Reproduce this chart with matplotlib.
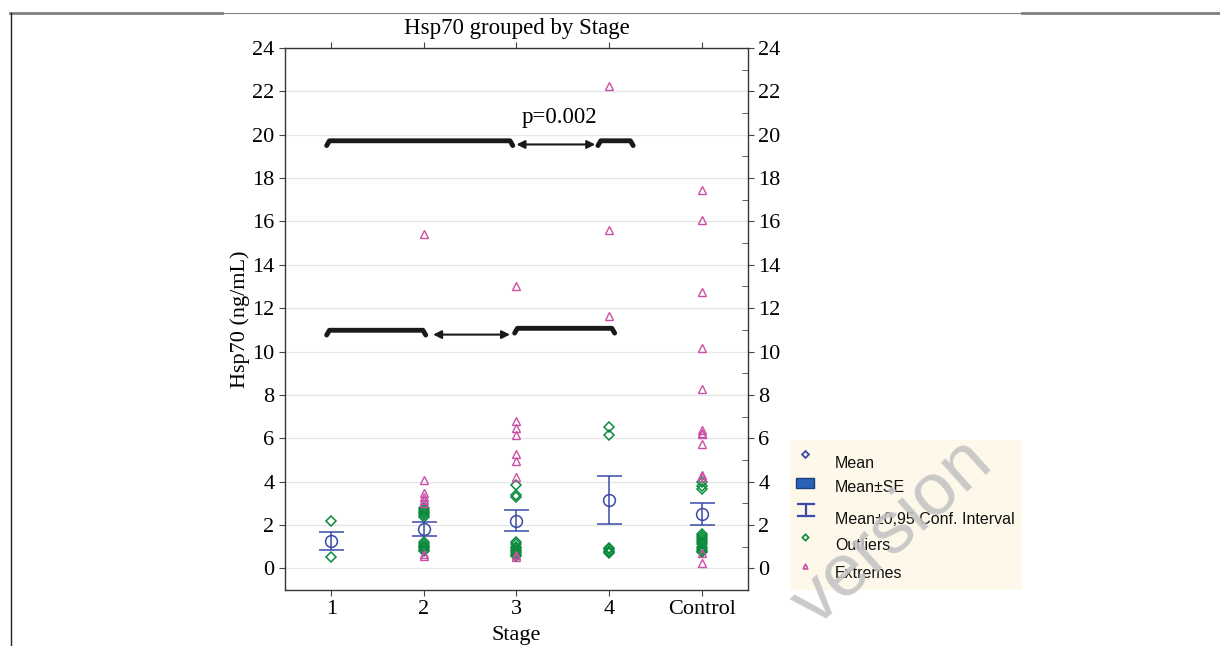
import matplotlib.pyplot as plt
from matplotlib.lines import Line2D
from matplotlib.patches import Rectangle

plt.rcParams['font.family'] = ['Liberation Serif', 'DejaVu Serif']

# categories and summary statistics
stages = ["1", "2", "3", "4", "Control"]
means = [1.26, 1.80, 2.20, 3.17, 2.51]
ci_low = [0.85, 1.48, 1.72, 2.06, 2.00]
ci_high = [1.68, 2.12, 2.68, 4.28, 3.01]

# outliers (green diamonds) per stage
outliers = [
    [2.18, 0.52],
    [2.80, 2.70, 2.62, 2.55, 2.45, 2.38, 1.20, 1.12, 1.05, 0.98, 0.92, 0.85, 0.78],
    [3.83, 3.40, 3.29, 1.21, 1.10, 1.00, 0.92, 0.85, 0.78, 0.70, 0.62, 0.55],
    [6.52, 6.14, 0.95, 0.88, 0.82, 0.76, 0.70],
    [3.98, 3.78, 3.68, 1.60, 1.50, 1.40, 1.30, 1.20, 1.10, 1.00, 0.90, 0.80, 0.75],
]

# extremes (pink triangles) per stage
extremes = [
    [],
    [15.4, 4.06, 3.46, 3.30, 3.15, 3.00, 0.65, 0.55],
    [13.0, 6.80, 6.45, 6.14, 5.29, 4.94, 4.19, 0.60, 0.52],
    [22.24, 15.6, 11.63],
    [17.44, 16.06, 12.75, 10.14, 8.29, 6.37, 6.25, 6.20, 5.75, 4.29, 4.20, 0.69, 0.25],
]

blue = "#3a4aa8"
green = "#0a8a3a"
pink = "#cc4fa6"

fig = plt.figure(figsize=(12.2, 6.46), dpi=100)
ax = fig.add_axes([0.2336, 0.0867, 0.3795, 0.839])

for i, vals in enumerate(outliers):
    ax.plot([i] * len(vals), vals, linestyle="none", marker="D", markersize=5.5,
            markerfacecolor="none", markeredgecolor=green, markeredgewidth=1.1, zorder=3)
for i, vals in enumerate(extremes):
    ax.plot([i] * len(vals), vals, linestyle="none", marker="^", markersize=6,
            markerfacecolor="none", markeredgecolor=pink, markeredgewidth=1.0, zorder=3)

xs = list(range(len(stages)))
yerr = [[m - lo for m, lo in zip(means, ci_low)], [hi - m for m, hi in zip(means, ci_high)]]
ax.errorbar(xs, means, yerr=yerr, fmt="o", markersize=8.5, markerfacecolor="none",
            markeredgecolor=blue, markeredgewidth=1.1, ecolor=blue, elinewidth=1.1,
            capsize=9, capthick=1.1, zorder=4)

ax.set_xlim(-0.5, 4.5)
ax.set_ylim(-1, 24)
ax.set_xticks(xs)
ax.set_xticklabels(stages, fontsize=16)
ax.set_yticks(range(0, 25, 2))
ax.set_yticks(range(0, 25, 1), minor=True)
ax.tick_params(axis="y", which="major", direction="out", length=4, labelsize=16,
               right=True, labelright=True, color="#444444")
ax.tick_params(axis="y", which="minor", direction="in", length=4, left=False, right=True,
               color="#444444")
ax.tick_params(axis="x", which="major", direction="out", length=4, top=True, color="#444444")
ax.grid(axis="y", which="major", color="#e6e6e6", linewidth=0.9, zorder=0)
ax.set_axisbelow(True)
for sp in ax.spines.values():
    sp.set_color("#3a3333")
    sp.set_linewidth(1.0)

ax.set_title("Hsp70 grouped by Stage", fontsize=16.5, pad=10)
ax.set_ylabel("Hsp70 (ng/mL)", fontsize=16, labelpad=2)
ax.set_xlabel("Stage", fontsize=16, labelpad=5)

# significance brackets: (x_start, x_end, y)
brackets = [(-0.05, 1.96, 19.72), (2.88, 3.26, 19.72), (-0.05, 1.02, 10.98), (1.98, 3.06, 11.07)]
for x0, x1, y in brackets:
    ax.plot([x0, x0 + 0.03, x1 - 0.03, x1], [y - 0.22, y, y, y - 0.22], color="#1a1a1a",
            linewidth=3.5, solid_capstyle="round", solid_joinstyle="round", zorder=5)

# double arrows: (x_start, x_end, y)
arrows = [(2.0, 2.85, 19.55), (1.10, 1.93, 10.78)]
for x0, x1, y in arrows:
    ax.annotate("", xy=(x1, y), xytext=(x0, y),
                arrowprops=dict(arrowstyle="<|-|>", color="#1a1a1a", lw=1.5,
                                mutation_scale=12, shrinkA=0, shrinkB=0), zorder=5)
ax.text(2.46, 20.3, "p=0.002", fontsize=16.5, ha="center", va="bottom")

# legend box
lx, ly, lw, lh = 790 / 1220, 1 - 590 / 646, 232 / 1220, 150 / 646
fig.patches.append(Rectangle((lx, ly), lw, lh, transform=fig.transFigure,
                             facecolor="#fdf8ea", edgecolor="none", zorder=0))
legend_items = ["Mean", "Mean\u00b1SE", "Mean\u00b10,95 Conf. Interval", "Outliers", "Extremes"]
legend_y = [463, 488, 519, 546, 574]
sfont = ["Liberation Sans", "DejaVu Sans"]
for txt, py in zip(legend_items, legend_y):
    fig.text(835 / 1220, 1 - py / 646, txt, fontsize=11.5, family=sfont, va="center",
             color="#111111")
fig.lines.append(Line2D([805 / 1220], [1 - 454 / 646], transform=fig.transFigure,
                        marker="D", markersize=3.5, markerfacecolor="none",
                        markeredgecolor=blue, markeredgewidth=1.3, linestyle="none"))
fig.patches.append(Rectangle((796 / 1220, 1 - 488 / 646), 18 / 1220, 10 / 646,
                             transform=fig.transFigure, facecolor="#2a62b8",
                             edgecolor="#1c3f80", linewidth=1))
for xx, yy in [([798, 814], [504, 504]), ([806, 806], [504, 516]), ([798, 814], [516, 516])]:
    fig.lines.append(Line2D([v / 1220 for v in xx], [1 - v / 646 for v in yy],
                            transform=fig.transFigure, color=blue, linewidth=1.6))
fig.lines.append(Line2D([805 / 1220], [1 - 537 / 646], transform=fig.transFigure,
                        marker="D", markersize=3.2, markerfacecolor="none",
                        markeredgecolor=green, markeredgewidth=1.2, linestyle="none"))
fig.lines.append(Line2D([805 / 1220], [1 - 566 / 646], transform=fig.transFigure,
                        marker="^", markersize=3.5, markerfacecolor="none",
                        markeredgecolor=pink, markeredgewidth=1.2, linestyle="none"))

# page frame lines
fig.lines.append(Line2D([10 / 1220, 222 / 1220], [1 - 13 / 646] * 2, transform=fig.transFigure,
                        color="#808080", linewidth=2))
fig.lines.append(Line2D([222 / 1220, 1022 / 1220], [1 - 13 / 646] * 2, transform=fig.transFigure,
                        color="#808080", linewidth=0.8))
fig.lines.append(Line2D([1022 / 1220, 1220 / 1220], [1 - 13 / 646] * 2, transform=fig.transFigure,
                        color="#808080", linewidth=2))
fig.lines.append(Line2D([11 / 1220] * 2, [1 - 13 / 646, 0], transform=fig.transFigure,
                        color="#222222", linewidth=1))

# watermark
fig.text(892 / 1220, 1 - 532 / 646, "version", fontsize=54, family=sfont, color="#c4c4c4",
         rotation=42, ha="center", va="center", alpha=0.9, zorder=10)

fig.savefig("out.png", dpi=100)
